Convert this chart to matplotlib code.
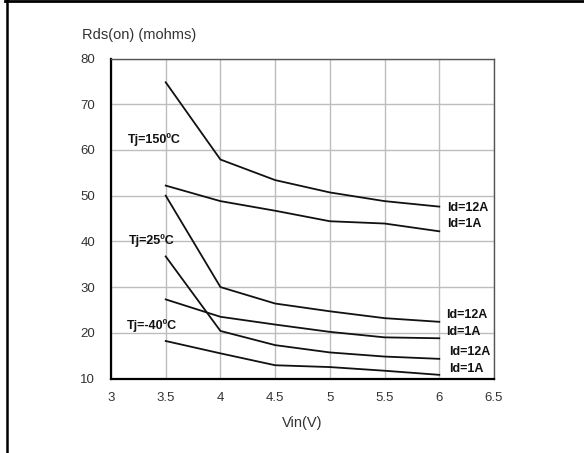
import matplotlib
matplotlib.use("Agg")
import matplotlib.pyplot as plt
from matplotlib.lines import Line2D

plt.rcParams['font.family'] = ['Liberation Sans', 'DejaVu Sans']

vin = [3.5, 4.0, 4.5, 5.0, 5.5, 6.0]
tj150_id12 = [74.8, 57.9, 53.4, 50.7, 48.8, 47.6]
tj150_id1 = [52.2, 48.8, 46.7, 44.4, 43.9, 42.2]
tj25_id12 = [50.0, 30.0, 26.4, 24.7, 23.2, 22.4]
tj25_id1 = [27.3, 23.5, 21.8, 20.2, 19.0, 18.8]
tjm40_id12 = [36.7, 20.4, 17.3, 15.7, 14.8, 14.3]
tjm40_id1 = [18.2, 15.5, 12.9, 12.5, 11.7, 10.8]

series = [tj150_id12, tj150_id1, tj25_id12, tj25_id1, tjm40_id12, tjm40_id1]

temp_labels = ["Tj=150\u00baC", "Tj=25\u00baC", "Tj=-40\u00baC"]
temp_label_pos = [(3.155, 62.2), (3.165, 40.1), (3.145, 21.6)]
id_labels = ["Id=12A", "Id=1A", "Id=12A", "Id=1A", "Id=12A", "Id=1A"]
id_label_pos = [(6.07, 47.3), (6.07, 43.9), (6.065, 23.8), (6.065, 20.2), (6.09, 15.8), (6.09, 12.1)]

xticks = [3, 3.5, 4, 4.5, 5, 5.5, 6, 6.5]
xticklabels = ["3", "3.5", "4", "4.5", "5", "5.5", "6", "6.5"]
yticks = [10, 20, 30, 40, 50, 60, 70, 80]

W, H = 584, 453
fig = plt.figure(figsize=(W / 100, H / 100), dpi=100)
ax = fig.add_axes([111 / W, 1 - 378.5 / H, (494 - 111) / W, (378.5 - 58.5) / H])

for s in series:
    ax.plot(vin, s, color="#111111", lw=1.3, zorder=3)

ax.set_xlim(3, 6.5)
ax.set_ylim(10, 80)
ax.set_xticks(xticks)
ax.set_xticklabels(xticklabels)
ax.set_yticks(yticks)
ax.grid(True, color="#bdbdbd", lw=1.0, zorder=1)
ax.set_axisbelow(True)
ax.tick_params(axis="both", length=0, labelsize=9.5, labelcolor="#333333")
ax.tick_params(axis="x", pad=10)
ax.tick_params(axis="y", pad=11.5)

for side in ["left", "bottom"]:
    ax.spines[side].set_color("#000000")
    ax.spines[side].set_linewidth(1.6)
for side in ["top", "right"]:
    ax.spines[side].set_color("#555555")
    ax.spines[side].set_linewidth(1.0)

ax.set_xlabel("Vin(V)", fontsize=10.5, color="#333333", labelpad=8)

for t, (x, y) in zip(temp_labels, temp_label_pos):
    ax.text(x, y, t, fontsize=9, fontweight="bold", color="#111111", va="center", ha="left", zorder=4)
for t, (x, y) in zip(id_labels, id_label_pos):
    ax.text(x, y, t, fontsize=9, fontweight="bold", color="#111111", va="center", ha="left", zorder=4)

fig.text(81.7 / W, 1 - 35 / H, "Rds(on) (mohms)", fontsize=10.5, color="#333333", va="center", ha="left")

# page border lines (top and left)
fig.add_artist(Line2D([5 / W, 1], [1 - 1.2 / H, 1 - 1.2 / H], transform=fig.transFigure, color="black", lw=2.0))
fig.add_artist(Line2D([6.5 / W, 6.5 / W], [0, 1], transform=fig.transFigure, color="black", lw=1.8))

fig.savefig("out.png", dpi=100)
